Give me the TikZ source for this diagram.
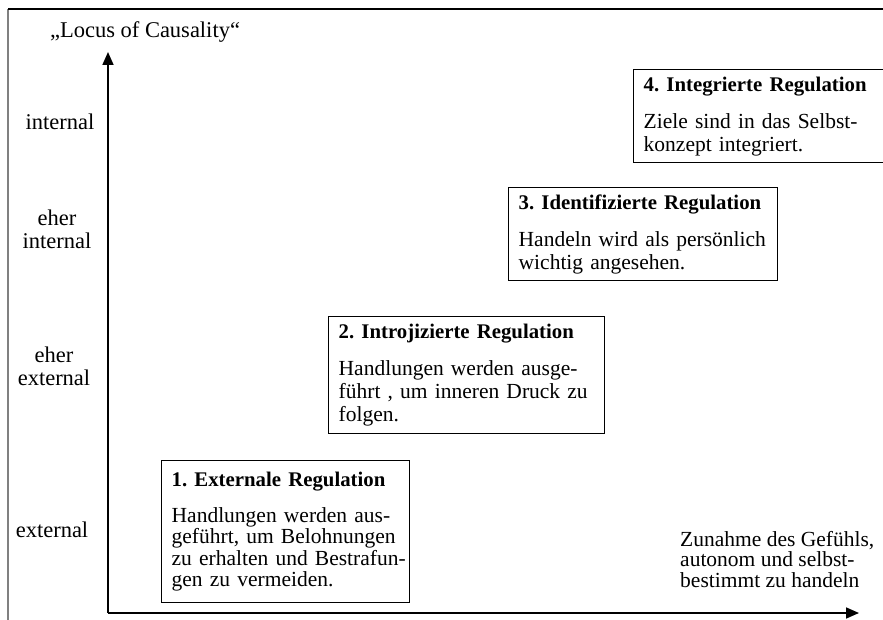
\documentclass[tikz,border=0pt]{standalone}
\usepackage{fontspec}
\setmainfont{Liberation Serif}
\usetikzlibrary{arrows.meta}
\frenchspacing
\newcommand{\regtitle}[1]{{\fontsize{20.8}{23}\selectfont\bfseries #1}}
\begin{document}
\begin{tikzpicture}[x=1pt,y=-1pt]
  \tikzset{
    regbox/.style={draw,line width=1.4pt,anchor=north west,align=left,
      inner xsep=10pt,inner ysep=4pt,font=\fontsize{21.5}{23}\selectfont},
    ylbl/.style={align=center,font=\fontsize{22.5}{23}\selectfont},
    axis/.style={-{Triangle[length=13pt,width=11pt]},line width=1.6pt},
  }
  \useasboundingbox (0,0) rectangle (883,620);
  \clip (0,0) rectangle (883,620);
  % frame
  \draw[line width=1.2pt,gray] (8,620) -- (8,9);
  \draw[line width=1.2pt] (8,9) -- (883,9);
  % axes
  \coordinate (o) at (108,613);
  \coordinate (ytip) at (108,52);
  \coordinate (xtip) at (859,613);
  \draw[axis] (o) -- (ytip);
  \draw[axis] (o) -- (xtip);
  \node[ylbl] (locus) at (145,32) {„Locus of Causality“};
  \node[ylbl] (int) at (60,122) {internal};
  \node[ylbl] (eint) at (57,229) {eher\\internal};
  \node[ylbl] (eext) at (54,366) {eher\\external};
  \node[ylbl] (ext) at (52,530) {external};
  \node[align=left,anchor=north west,inner sep=0pt,font=\fontsize{21.5}{20.5}\selectfont]
    (autonomy) at (680,531)
    {Zunahme des Gefühls,\\autonom und selbst-\\bestimmt zu handeln};
  % regulation boxes
  \node[regbox,text width=228pt,minimum height=142pt,font=\fontsize{21.5}{21.5}\selectfont]
    (r1) at (161,460)
    {\regtitle{1. Externale Regulation}\\[14pt]
     Handlungen werden aus-\\geführt, um Belohnungen\\\mbox{zu erhalten und Bestrafun-}\\gen zu vermeiden.};
  \node[regbox,text width=256pt,minimum height=117pt] (r2) at (328,316)
    {\regtitle{2. Introjizierte Regulation}\\[14pt]
     Handlungen werden ausge-\\führt , um inneren Druck zu\\folgen.};
  \node[regbox,text width=249pt,minimum height=93pt] (r3) at (508,187)
    {\regtitle{\mbox{3. Identifizierte Regulation}}\\[14pt]
     Handeln wird als persönlich\\wichtig angesehen.};
  \node[regbox,text width=240pt,minimum height=93pt] (r4) at (633,69)
    {\regtitle{4. Integrierte Regulation}\\[14pt]
     Ziele sind in das Selbst-\\konzept integriert.};
\end{tikzpicture}
\end{document}
